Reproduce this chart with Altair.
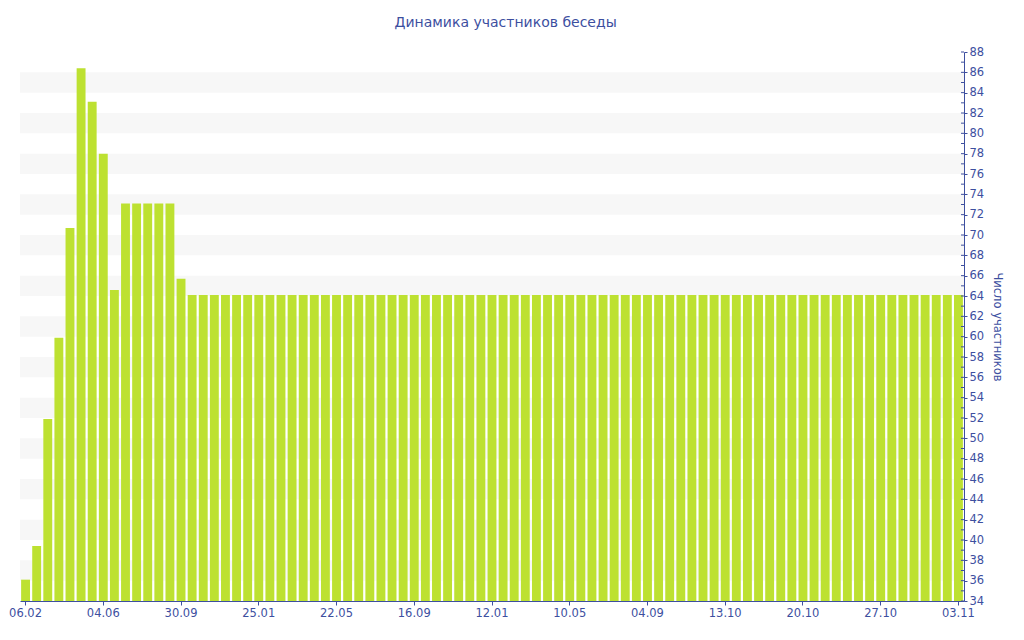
import altair as alt
import pandas as pd

# values per bar (85 bars)
head_values = [36.1, 39.4, 51.9, 59.9, 70.7, 86.4, 83.1, 78.0, 64.6,
               73.1, 73.1, 73.1, 73.1, 73.1, 65.7]
tail_value = 64.1
tail_count = 70
values = head_values + [tail_value] * tail_count

# tick labels, one per every 7th bar
tick_labels = ["06.02", "04.06", "30.09", "25.01", "22.05", "16.09", "12.01",
               "10.05", "04.09", "13.10", "20.10", "27.10", "03.11"]
label_step = 7

# alternating background bands
band_lo = [36, 40, 44, 48, 52, 56, 60, 64, 68, 72, 76, 80, 84]
band_hi = [38, 42, 46, 50, 54, 58, 62, 66, 70, 74, 78, 82, 86]

y_min, y_max = 34, 88
y_labels = list(range(y_min, y_max + 1, 2))
y_minor = list(range(y_min, y_max + 1))

df = pd.DataFrame({"i": list(range(len(values))), "v": values})
bands = pd.DataFrame({"lo": band_lo, "hi": band_hi})
minor = pd.DataFrame({"t": y_minor})

label_map = {str(k * label_step): lab for k, lab in enumerate(tick_labels)}
label_expr = "(" + str(label_map).replace("'", '"') + ")[datum.value] || ''"

W, H = 944, 549
FONT = "DejaVu Sans"
BLUE = "#3d4f9f"

yscale = alt.Scale(domain=[y_min, y_max], nice=False, zero=False)

band_layer = alt.Chart(bands).mark_rect(color="#f7f7f7").encode(
    x=alt.value(0), x2=alt.value(W),
    y=alt.Y("lo:Q", scale=yscale, title="Число участников",
            axis=alt.Axis(orient="right", values=y_labels,
                          tickCount=len(y_labels),
                          labelOverlap=False,
                          grid=False, domainColor=BLUE, tickColor=BLUE,
                          tickSize=3, labelColor=BLUE, labelFont=FONT,
                          labelFontSize=11.5, labelPadding=2,
                          titleColor=BLUE, titleFont=FONT, titleFontSize=11.5,
                          titleFontWeight="normal", titleAngle=90,
                          titlePadding=8)),
    y2="hi:Q",
)

bar_layer = alt.Chart(df).mark_bar(color="#bde131").encode(
    x=alt.X("i:O", title=None,
            scale=alt.Scale(paddingInner=0.2, paddingOuter=0.1),
            axis=alt.Axis(values=[k * label_step for k in range(len(tick_labels))],
                          labelExpr=label_expr, labelAngle=0, domainColor=BLUE,
                          tickColor=BLUE, tickSize=4, labelColor=BLUE,
                          labelFont=FONT, labelFontSize=11.5, labelPadding=2,
                          labelOverlap=False)),
    y=alt.Y("v:Q", scale=yscale),
    y2=alt.datum(y_min),
)

minor_layer = alt.Chart(minor).mark_rule(color=BLUE, strokeWidth=1).encode(
    x=alt.value(W - 3), x2=alt.value(W),
    y=alt.Y("t:Q", scale=yscale),
)

chart = alt.layer(band_layer, bar_layer, minor_layer).properties(
    width=W, height=H,
    title=alt.TitleParams("Динамика участников беседы", font=FONT, fontSize=14,
                          fontWeight="normal", color=BLUE, offset=16,
                          frame="bounds", anchor="middle"),
    padding={"left": 0, "top": 8, "right": 5, "bottom": 5},
).configure_view(stroke=None)

chart.save("out.html", embed_options={"renderer": "svg", "actions": False})
